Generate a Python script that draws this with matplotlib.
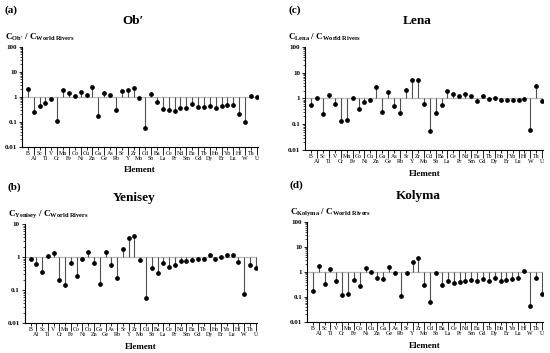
import matplotlib
matplotlib.use("Agg")
import matplotlib.pyplot as plt
from matplotlib.ticker import LogLocator, NullFormatter

plt.rcParams['font.family'] = ['Liberation Serif', 'DejaVu Serif']
plt.rcParams['mathtext.fontset'] = 'custom'
plt.rcParams['mathtext.rm'] = 'Liberation Serif'
plt.rcParams['mathtext.bf'] = 'Liberation Serif:bold'
plt.rcParams['mathtext.it'] = 'Liberation Serif:italic'

elements = ["B", "Al", "Sc", "Ti", "V", "Cr", "Mn", "Fe", "Co", "Ni", "Cu", "Zn", "Ga", "Ge",
            "As", "Rb", "Sr", "Y", "Zr", "Mo", "Cd", "Sb", "Ba", "La", "Ce", "Pr", "Nd", "Sm",
            "Eu", "Gd", "Tb", "Dy", "Ho", "Er", "Yb", "Lu", "Hf", "W", "Th", "U"]

ob = [2.15, 0.26, 0.42, 0.58, 0.81, 0.11, 1.9, 1.4, 1.1, 1.6, 1.2, 2.5, 0.17, 1.4,
      1.24, 0.29, 1.7, 1.9, 2.2, 0.88, 0.057, 1.28, 0.65, 0.32, 0.30, 0.27, 0.35, 0.35,
      0.54, 0.41, 0.39, 0.45, 0.37, 0.44, 0.46, 0.49, 0.21, 0.10, 1.1, 0.97]

lena = [0.55, 1.07, 0.25, 1.35, 0.6, 0.135, 0.15, 1.0, 0.40, 0.74, 0.86, 2.8, 0.31, 1.8,
        0.50, 0.28, 2.05, 5.2, 5.2, 0.62, 0.055, 0.28, 0.57, 1.9, 1.5, 1.3, 1.5, 1.23,
        0.79, 1.27, 0.92, 1.06, 0.86, 0.84, 0.86, 0.86, 0.98, 0.06, 3.0, 0.8]

yenisey = [0.85, 0.6, 0.35, 1.07, 1.3, 0.2, 0.14, 0.66, 0.27, 0.89, 1.4, 0.66, 0.15, 1.38,
           0.59, 0.23, 1.8, 3.7, 4.3, 0.79, 0.059, 0.46, 0.32, 0.68, 0.5, 0.59, 0.74, 0.76,
           0.81, 0.89, 0.87, 1.12, 0.87, 1.0, 1.12, 1.17, 0.72, 0.078, 0.59, 0.48]

kolyma = [0.18, 1.7, 0.33, 1.36, 0.45, 0.12, 0.13, 0.46, 0.27, 1.45, 1.03, 0.56, 0.52, 1.58,
          0.94, 0.11, 0.91, 2.5, 3.5, 0.31, 0.065, 0.93, 0.31, 0.42, 0.36, 0.38, 0.45, 0.49,
          0.42, 0.53, 0.45, 0.56, 0.44, 0.48, 0.54, 0.57, 1.1, 0.045, 0.6, 0.13]

panels = [
    # letter, title, subscript, values, rect, ylim top
    ("(a)", "Ob\u2032", "Ob\u2032", ob, [0.040, 0.584, 0.429, 0.283], 100),
    ("(c)", "Lena", "Lena", lena, [0.555, 0.575, 0.433, 0.292], 100),
    ("(b)", "Yenisey", "Yenisey", yenisey, [0.045, 0.085, 0.422, 0.280], 10),
    ("(d)", "Kolyma", "Kolyma", kolyma, [0.558, 0.088, 0.429, 0.283], 100),
]

fig = plt.figure(figsize=(5.5, 3.53), dpi=100)

for letter, title, sub, vals, rect, ytop in panels:
    ax = fig.add_axes(rect)
    x = list(range(len(elements)))
    ax.set_yscale('log')
    ax.set_ylim(0.01, ytop)
    ax.set_xlim(-1, len(elements) - 0.8)
    ax.axhline(1, color='#b8b8b8', lw=0.9, zorder=1)
    ax.vlines(x, [1] * len(vals), vals, color='#505050', lw=0.8, zorder=2)
    ax.plot(x, vals, 'o', color='black', ms=2.4, zorder=3)
    for s in ['top', 'right']:
        ax.spines[s].set_visible(False)
    for s in ['left', 'bottom']:
        ax.spines[s].set_linewidth(0.8)
    # x ticks: even -> upper row (short ticks), odd -> lower row (long ticks)
    ax.set_xticks(x[0::2], elements[0::2])
    ax.set_xticks(x[1::2], elements[1::2], minor=True)
    ax.tick_params(axis='x', which='major', length=2, width=0.6, pad=1, labelsize=4.3)
    ax.tick_params(axis='x', which='minor', length=5.5, width=0.6, pad=1, labelsize=4.3)
    # y ticks
    decades = [10.0 ** k for k in range(-2, 3) if 10.0 ** k <= ytop]
    labels = ["0.01", "0.1", "1", "10", "100"][:len(decades)]
    ax.set_yticks(decades, labels)
    ax.yaxis.set_minor_locator(LogLocator(base=10, subs=range(2, 10)))
    ax.yaxis.set_minor_formatter(NullFormatter())
    ax.tick_params(axis='y', which='major', length=2.5, width=0.6, pad=1, labelsize=5)
    ax.tick_params(axis='y', which='minor', length=1.3, width=0.5)
    for lab in ax.get_yticklabels():
        lab.set_fontweight('bold')
    ax.set_xlabel("Element", fontsize=6.5, fontweight='bold', labelpad=4)
    # panel texts
    l, b, w, h = rect
    top = b + h
    fig.text(l - 0.031, top + 0.104, letter, fontsize=8, fontweight='bold', ha='left', va='center')
    fig.text(l + w * 0.47, top + 0.074, title, fontsize=9.5, fontweight='bold', ha='center', va='center')
    subm = sub.replace(" ", r"\ ")
    ylab = (r"C$_{\mathbf{" + subm + r"}}$ / C$_{\mathbf{World\ Rivers}}$")
    fig.text(l - 0.031, top + 0.028, ylab, fontsize=6.6, fontweight='bold', ha='left', va='center')

fig.savefig("out.png", dpi=100)
